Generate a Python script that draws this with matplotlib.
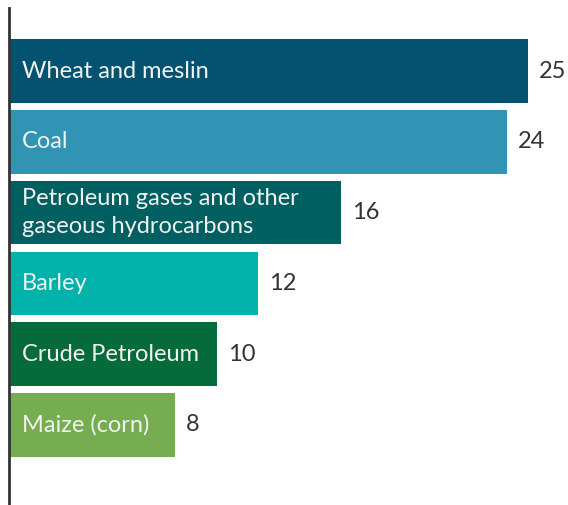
import matplotlib.pyplot as plt
from matplotlib.transforms import offset_copy

categories = ["Wheat and meslin", "Coal",
              "Petroleum gases and other\ngaseous hydrocarbons",
              "Barley", "Crude Petroleum", "Maize (corn)"]
values = [25, 24, 16, 12, 10, 8]
colors = ["#03526F", "#3194B4", "#005F60", "#00B2A9", "#056B3A", "#76AD50"]

plt.rcParams['font.family'] = ['Lato', 'DejaVu Sans']

fig = plt.figure(figsize=(5.68, 5.05), dpi=100)
ax = fig.add_axes([9 / 568, 0, 559 / 568, 497 / 505])

ypos = list(range(len(values)))
ax.barh(ypos, values, height=0.9, color=colors)

x_in = offset_copy(ax.transData, fig=fig, x=13, y=0, units='dots')
x_out = offset_copy(ax.transData, fig=fig, x=11, y=0, units='dots')
for y, v, name in zip(ypos, values, categories):
    ax.text(0, y, name, transform=x_in, color="#F2F2F2", fontsize=17,
            va='center', ha='left', linespacing=1.4)
    ax.text(v, y, str(v), transform=x_out, color="#333333", fontsize=17,
            va='center', ha='left')

ax.set_xlim(0, 559 / 20.76)
ax.set_ylim(5 + 1.13, -0.89)
for s in ['top', 'right', 'bottom']:
    ax.spines[s].set_visible(False)
ax.spines['left'].set_color("#333333")
ax.spines['left'].set_linewidth(2)
ax.set_xticks([])
ax.set_yticks([])

fig.savefig("out.png", dpi=100)
